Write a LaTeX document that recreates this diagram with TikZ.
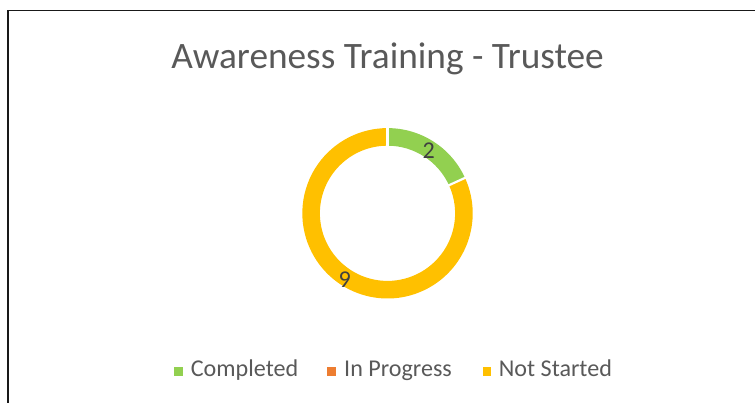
\documentclass[tikz,border=0pt]{standalone}
\usepackage{fontspec}
\setmainfont{Carlito}
\usetikzlibrary{positioning,calc}
\definecolor{donegreen}{HTML}{92D050}
\definecolor{progorange}{HTML}{ED7D31}
\definecolor{notyellow}{HTML}{FFC000}
\definecolor{titlegray}{HTML}{595959}
\definecolor{labelgray}{HTML}{404040}
\tikzset{
  keybox/.style={fill=#1, minimum size=8.7pt, inner sep=0pt},
  keytext/.style={font=\fontsize{24.1}{28}\selectfont, text=titlegray, inner sep=0pt, anchor=base west},
  datalabel/.style={font=\fontsize{24.1}{28}\selectfont, text=labelgray, inner sep=0pt}
}
\begin{document}
\begin{tikzpicture}[x=1pt,y=1pt]
        \useasboundingbox (0,0) rectangle (755,402);
        \clip (0,0) rectangle (755,402);
        % chart frame
        \draw [line width=1.6pt, black!90] (8.2,-20) rectangle (780,391.3);
        % title
        \node [anchor=base, inner sep=0pt, text=titlegray, font=\fontsize{37.3}{42}\selectfont] (title) at (387.5,333) {Awareness Training - Trustee};
        % donut
        \coordinate (c) at (387.5,188.7);
        \fill [notyellow] ([shift={(c)}]24.55:85.2) arc (24.55:-270:85.2) -- ([shift={(c)}]90:67.6) arc (90:384.55:67.6) -- cycle;
        \fill [donegreen] ([shift={(c)}]90:85.2) arc (90:24.55:85.2) -- ([shift={(c)}]24.55:67.6) arc (24.55:90:67.6) -- cycle;
        \draw [white, line width=2.2pt] ([shift={(c)}]90:66) -- ([shift={(c)}]90:87);
        \draw [white, line width=2.2pt] ([shift={(c)}]24.55:66) -- ([shift={(c)}]24.55:87);
        \node [datalabel] (lbl2) at ([shift={(c)}]56.5:74.5) {2};
        \node [datalabel] (lbl9) at ([shift={(c)}]237.3:79) {9};
        % legend
        \node [keybox=donegreen] (kdone) at (178.3,30.3) {};
        \node [keytext] (tdone) at (190.7,25.5) {Completed};
        \node [keybox=progorange] (kprog) at (331.7,30.3) {};
        \node [keytext] (tprog) at (344,25.5) {In Progress};
        \node [keybox=notyellow] (knot) at (487,30.3) {};
        \node [keytext] (tnot) at (498.7,25.5) {Not Started};
\end{tikzpicture}
\end{document}
